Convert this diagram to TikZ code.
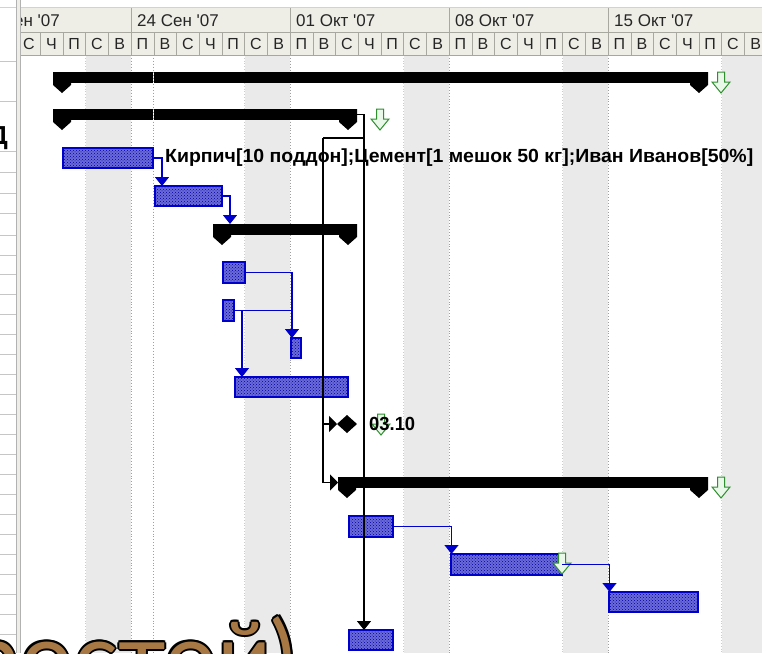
\documentclass[tikz,border=0pt]{standalone}
\usepackage{fontspec}
\setmainfont{Liberation Sans}
\newfontfamily\hdrfont{Liberation Sans}
\newfontfamily\bigfont{Lato}
\usetikzlibrary{shapes.geometric,patterns,arrows.meta}
\definecolor{hdr}{HTML}{EEEDE6}
\definecolor{hdrline}{HTML}{A8A8A0}
\definecolor{taskblue}{HTML}{0000CC}
\definecolor{taskfill}{HTML}{6A6AD8}
\definecolor{wkend}{HTML}{EAEAEA}
\definecolor{glinec}{HTML}{2F8F2F}
\definecolor{gfillc}{HTML}{EAF8EA}
\definecolor{wood}{HTML}{A87844}
\newcommand\mktask[5]{\node[taskbar, minimum width={(#3-#2)*1pt}, minimum height={(#5-#4)*1pt}] (#1) at (#2,#4) {};}
\newcommand\mksum[4]{%
  \node[sumbar, minimum width={(#3-#2)*1pt}] (#1) at (#2,#4) {};
  \fill (#2,#4) -- (#2,#4+13) -- (#2+9,#4+21) -- (#2+18,#4+13) -- (#2+18,#4) -- cycle;
  \fill (#3,#4) -- (#3,#4+13) -- (#3-9,#4+21) -- (#3-18,#4+13) -- (#3-18,#4) -- cycle;}
\newcommand\garrow[2]{\draw[garrowstyle] (#1-3.5,#2) -- (#1+3.5,#2) -- (#1+3.5,#2+10) -- (#1+9,#2+10) -- (#1,#2+21) -- (#1-9,#2+10) -- (#1-3.5,#2+10) -- cycle;}
\begin{document}
\begin{tikzpicture}[x=1pt,y=-1pt,
  taskbar/.style={draw=taskblue, line width=1.3pt, preaction={fill=taskfill}, pattern=crosshatch dots, pattern color=taskblue!80!black, anchor=north west, inner sep=0pt, outer sep=0pt},
  sumbar/.style={fill=black, anchor=north west, inner sep=0pt, outer sep=0pt, minimum height=11pt},
  blink/.style={draw=taskblue, line width=1.4pt, -{Triangle[width=14pt,length=9pt]}},
  klink/.style={draw=black, line width=1.4pt, -{Triangle[width=14pt,length=9pt]}},
  garrowstyle/.style={draw=glinec, fill=gfillc, line width=1pt, line join=miter},
  hdrtext/.style={font=\hdrfont\fontsize{17}{17}\selectfont, text=black!85, inner sep=0pt},
  daytext/.style={font=\hdrfont\fontsize{16}{16}\selectfont, text=black!85, inner sep=0pt},
  wkdots/.style={draw=gray!75, dotted, line width=0.9pt},
  bold19/.style={font=\bfseries\fontsize{19}{19}\selectfont, inner sep=0pt}
]
\useasboundingbox (0,0) rectangle (762,653);
\clip (0,0) rectangle (762,653);
\fill[white] (0,0) rectangle (762,653);
% weekend bands
\foreach \ws in {-28,131,290,449,608,767}
  \fill[wkend] (\ws-45.4,55) rectangle (\ws,653);
\foreach \ws in {131,290,449,608}
  \draw[wkdots] (\ws,55) -- (\ws,653);
\foreach \ws in {-28,131,290,449,608,767}
  \draw[gray!40, dotted, line width=0.8pt] (\ws-45.4,55) -- (\ws-45.4,653);
\draw[wkdots] (153.7,55) -- (153.7,653);
% header
\fill[hdr] (20,8) rectangle (762,55);
\draw[gray!35] (0,7.5) -- (762,7.5);
\draw[hdrline] (20,32) -- (762,32);
\draw[gray!70, line width=1pt] (20,55) -- (762,55);
\foreach \ws in {131,290,449,608}
  \draw[hdrline] (\ws,8) -- (\ws,32);
\foreach \j in {-5,...,28}
  \draw[hdrline] (131+\j*22.714,32) -- (131+\j*22.714,55);
\begin{scope}
\clip (20,8) rectangle (762,55);
\foreach \ws/\lab [count=\i] in {-28/17 Сен '07,131/24 Сен '07,290/01 Окт '07,449/08 Окт '07,608/15 Окт '07}
  \node[hdrtext, anchor=west] (wk\i) at (\ws+6,20.5) {\lab};
\foreach \j in {-5,...,27}{
  \pgfmathtruncatemacro\m{mod(\j+7,7)}
  \pgfmathtruncatemacro\n{\j+5}
  \node[daytext] (day\n) at (131+\j*22.714+11.36,44) {\ifcase\m П\or В\or С\or Ч\or П\or С\or В\fi};
}
\end{scope}
% left panel
\fill[white] (0,8) rectangle (16,653);
\foreach \yy in {61,101,151,172,193,213,235,255,274,294,314,334,354,374,394,414,434,454,474,494,514,534,554,574,594,614,634}
  \draw[gray!45] (0,\yy) -- (16,\yy);
\fill[hdr] (16,0) rectangle (20,653);
\draw[gray!60] (16,0) -- (16,653);
\draw[gray!60] (20,0) -- (20,653);
\node[font=\bfseries\fontsize{26}{26}\selectfont, anchor=east, inner sep=0pt] (cut) at (8,138) {Д};
% summary bars
\mksum{s1}{53}{708}{72}
\mksum{s2}{53}{357}{109}
\mksum{s3}{213}{357}{224}
\mksum{s4}{338}{708}{477}
\draw[white, line width=1.3pt] (153.7,72) -- (153.7,83) (153.7,109) -- (153.7,120);
\draw[wkdots] (153.7,72) -- (153.7,83) (153.7,109) -- (153.7,120);
% tasks
\mktask{t1}{63}{153}{148}{168}
\mktask{t2}{155}{222}{186}{206}
\mktask{ta}{223}{245}{262}{283}
\mktask{tb}{223}{234}{300}{321}
\mktask{tc}{291}{301}{338}{358}
\mktask{td}{235}{348}{377}{397}
\mktask{te}{349}{393}{516}{537}
\mktask{tf}{451}{562}{554}{575}
\mktask{tg}{609}{698}{592}{612}
\mktask{th}{349}{393}{630}{650}
% milestone
\node[diamond, fill=black, minimum width=20pt, minimum height=18pt, inner sep=0pt, outer sep=0pt] (ms) at (347,424) {};
% green arrows
\garrow{721}{72}
\garrow{380}{109}
\garrow{381}{414}
\garrow{721}{477}
\garrow{562}{553}
% labels
\node[bold19, anchor=west] (lbl) at (165,158) {\resizebox{588pt}{\height}{Кирпич[10 поддон];Цемент[1 мешок 50 кг];Иван Иванов[50\%]}};
\node[bold19, anchor=west] (msl) at (369,424) {\resizebox{46pt}{\height}{03.10}};
% links
\draw[blink] (t1.east) -| ([xshift=7pt]t2.north west);
\draw[blink] (t2.east) -| ([xshift=17pt]s3.north west);
\coordinate (cx) at ([xshift=1pt]tc.north west);
\draw[blink] (ta.east) -| (cx);
\draw[draw=taskblue, line width=1.4pt] (tb.east) -- (tb.east -| cx);
\draw[blink] (tb.east) -| ([xshift=7pt]td.north west);
\draw[blink] (te.east) -| ([xshift=0.5pt]tf.north west);
\draw[blink] (tf.east) -| ([xshift=0.5pt]tg.north west);
\coordinate (ch) at ([xshift=15pt]th.north west);
\coordinate (bend) at (323,138);
\draw[klink] (s2.east) -| (ch);
\draw[line width=1.4pt] (bend -| ch) -- (bend);
\draw[draw=black, line width=1.4pt, -{Triangle[width=16pt,length=8pt]}] (bend) |- (ms.west);
\draw[draw=black, line width=1.4pt, -{Triangle[width=16pt,length=8pt]}] (bend) |- (s4.west);
% big decorative text
\foreach \dx/\dy [count=\i] in {-2/0,2/0,0/-2,0/2,-1.4/-1.4,1.4/-1.4,-1.4/1.4,1.4/1.4}
  \node[anchor=base east, inner sep=0pt, text=black, font={\bigfont\fontsize{98}{98}\selectfont}] (bigo\i) at (296+\dx,692+\dy) {\scalebox{0.96}[1]{(простой)}};
\node[anchor=base east, inner sep=0pt, text=wood, font={\bigfont\fontsize{98}{98}\selectfont}] (big) at (296,692) {\scalebox{0.96}[1]{(простой)}};
\end{tikzpicture}
\end{document}
